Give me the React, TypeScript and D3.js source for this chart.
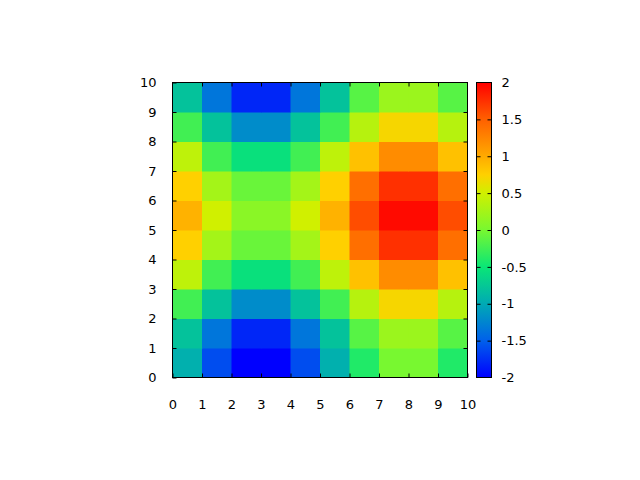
import React, { useEffect, useRef } from 'react';
import * as d3 from 'd3';

// values per row, bottom (y 0..1) to top (y 9..10), columns x 0..9
const row0 = [-0.95, -1.6, -2.0, -2.0, -1.6, -0.95, -0.4, 0.0, 0.0, -0.4];
const row1 = [-0.8, -1.35, -1.8, -1.8, -1.35, -0.8, -0.15, 0.2, 0.2, -0.15];
const row2 = [-0.25, -0.8, -1.2, -1.2, -0.8, -0.25, 0.35, 0.7, 0.7, 0.35];
const row3 = [0.4, -0.25, -0.55, -0.55, -0.25, 0.4, 0.85, 1.2, 1.2, 0.85];
const row4 = [0.75, 0.25, -0.07, -0.07, 0.25, 0.75, 1.4, 1.75, 1.75, 1.4];
const row5 = [0.95, 0.5, 0.1, 0.1, 0.5, 0.95, 1.6, 1.95, 1.95, 1.6];
const row6 = [0.75, 0.25, -0.07, -0.07, 0.25, 0.75, 1.4, 1.75, 1.75, 1.4];
const row7 = [0.4, -0.25, -0.55, -0.55, -0.25, 0.4, 0.85, 1.2, 1.2, 0.85];
const row8 = [-0.25, -0.8, -1.2, -1.2, -0.8, -0.25, 0.35, 0.7, 0.7, 0.35];
const row9 = [-0.8, -1.35, -1.8, -1.8, -1.35, -0.8, -0.15, 0.2, 0.2, -0.15];
const rows = [row0, row1, row2, row3, row4, row5, row6, row7, row8, row9];

const axisTicks = [0, 1, 2, 3, 4, 5, 6, 7, 8, 9, 10];
const cbTicks = [-2, -1.5, -1, -0.5, 0, 0.5, 1, 1.5, 2];

// palette stops (value -> colour)
const paletteValues = [-2, -1.5, -1, -0.5, 0, 0.5, 0.75, 1, 1.5, 2];
const paletteColors = ['#0000ff', '#0060eb', '#00aab4', '#0ae676', '#78f830', '#d0f000', '#ffd000', '#ffaa00', '#ff6000', '#ff0000'];

export default function App() {
    const ref = useRef<SVGSVGElement>(null);

    useEffect(() => {
        const svg = d3.select(ref.current);
        svg.selectAll('*').remove();

        const x = d3.scaleLinear().domain([0, 10]).range([172.5, 467.5]);
        const y = d3.scaleLinear().domain([0, 10]).range([377.5, 82.5]);
        const cb = d3.scaleLinear().domain([-2, 2]).range([377.5, 82.5]);
        const color = d3.scaleLinear<string>().domain(paletteValues).range(paletteColors).interpolate(d3.interpolateRgb).clamp(true);

        const font = 'DejaVu Sans, sans-serif';

        // cells
        const cells: { cx: number; cy: number; v: number }[] = [];
        rows.forEach((r, j) => r.forEach((v, i) => cells.push({ cx: i, cy: j, v })));
        svg.append('g').selectAll('rect')
            .data(cells)
            .enter()
            .append('rect')
            .attr('x', d => x(d.cx))
            .attr('y', d => y(d.cy + 1))
            .attr('width', d => x(d.cx + 1) - x(d.cx) + 0.5)
            .attr('height', d => y(d.cy) - y(d.cy + 1) + 0.5)
            .attr('fill', d => color(d.v));

        // axes with inward ticks
        const styleAxis = (g: any) => {
            g.select('.domain').remove();
            g.selectAll('line').attr('stroke', '#000');
            g.selectAll('text').attr('fill', '#000').style('font-family', font).style('font-size', '13px');
        };
        svg.append('g').attr('transform', 'translate(0,377.5)')
            .call(d3.axisBottom(x).tickValues(axisTicks).tickFormat(d3.format('d')).tickSize(-4).tickPadding(22))
            .call(styleAxis);
        svg.append('g').attr('transform', 'translate(172.5,0)')
            .call(d3.axisLeft(y).tickValues(axisTicks).tickFormat(d3.format('d')).tickSize(-4).tickPadding(16))
            .call(styleAxis);
        svg.append('g').attr('transform', 'translate(0,82.5)')
            .call(d3.axisTop(x).tickValues(axisTicks.slice(1, -1)).tickSize(-4).tickFormat(() => ''))
            .call(styleAxis);
        svg.append('g').attr('transform', 'translate(467.5,0)')
            .call(d3.axisRight(y).tickValues(axisTicks.slice(1, -1)).tickSize(-4).tickFormat(() => ''))
            .call(styleAxis);

        svg.append('rect')
            .attr('x', 172.5).attr('y', 82.5)
            .attr('width', 295).attr('height', 295)
            .attr('fill', 'none').attr('stroke', '#000');

        // colour bar
        const grad = svg.append('defs').append('linearGradient')
            .attr('id', 'cbgrad').attr('x1', 0).attr('y1', 1).attr('x2', 0).attr('y2', 0);
        paletteValues.forEach((v, i) => {
            grad.append('stop').attr('offset', (v + 2) / 4).attr('stop-color', paletteColors[i]);
        });
        svg.append('rect')
            .attr('x', 476.5).attr('y', cb(2))
            .attr('width', 15).attr('height', cb(-2) - cb(2))
            .attr('fill', 'url(#cbgrad)').attr('stroke', '#000');

        const inner = cbTicks.filter(d => d !== 2 && d !== -2);
        svg.append('g').attr('transform', 'translate(476.5,0)')
            .call(d3.axisLeft(cb).tickValues(inner).tickSize(-4).tickFormat(() => ''))
            .call(styleAxis);
        svg.append('g').attr('transform', 'translate(491.5,0)')
            .call(d3.axisRight(cb).tickValues(cbTicks).tickFormat(d => String(d)).tickSize(-4).tickPadding(10))
            .call(styleAxis)
            .call((g: any) => g.selectAll('.tick').filter((d: number) => d === 2 || d === -2).select('line').remove());
    }, []);

    return (
        <svg ref={ref} width={640} height={480}
            style={{ position: 'absolute', left: 0, top: 0, background: '#fff' }} />
    );
}
